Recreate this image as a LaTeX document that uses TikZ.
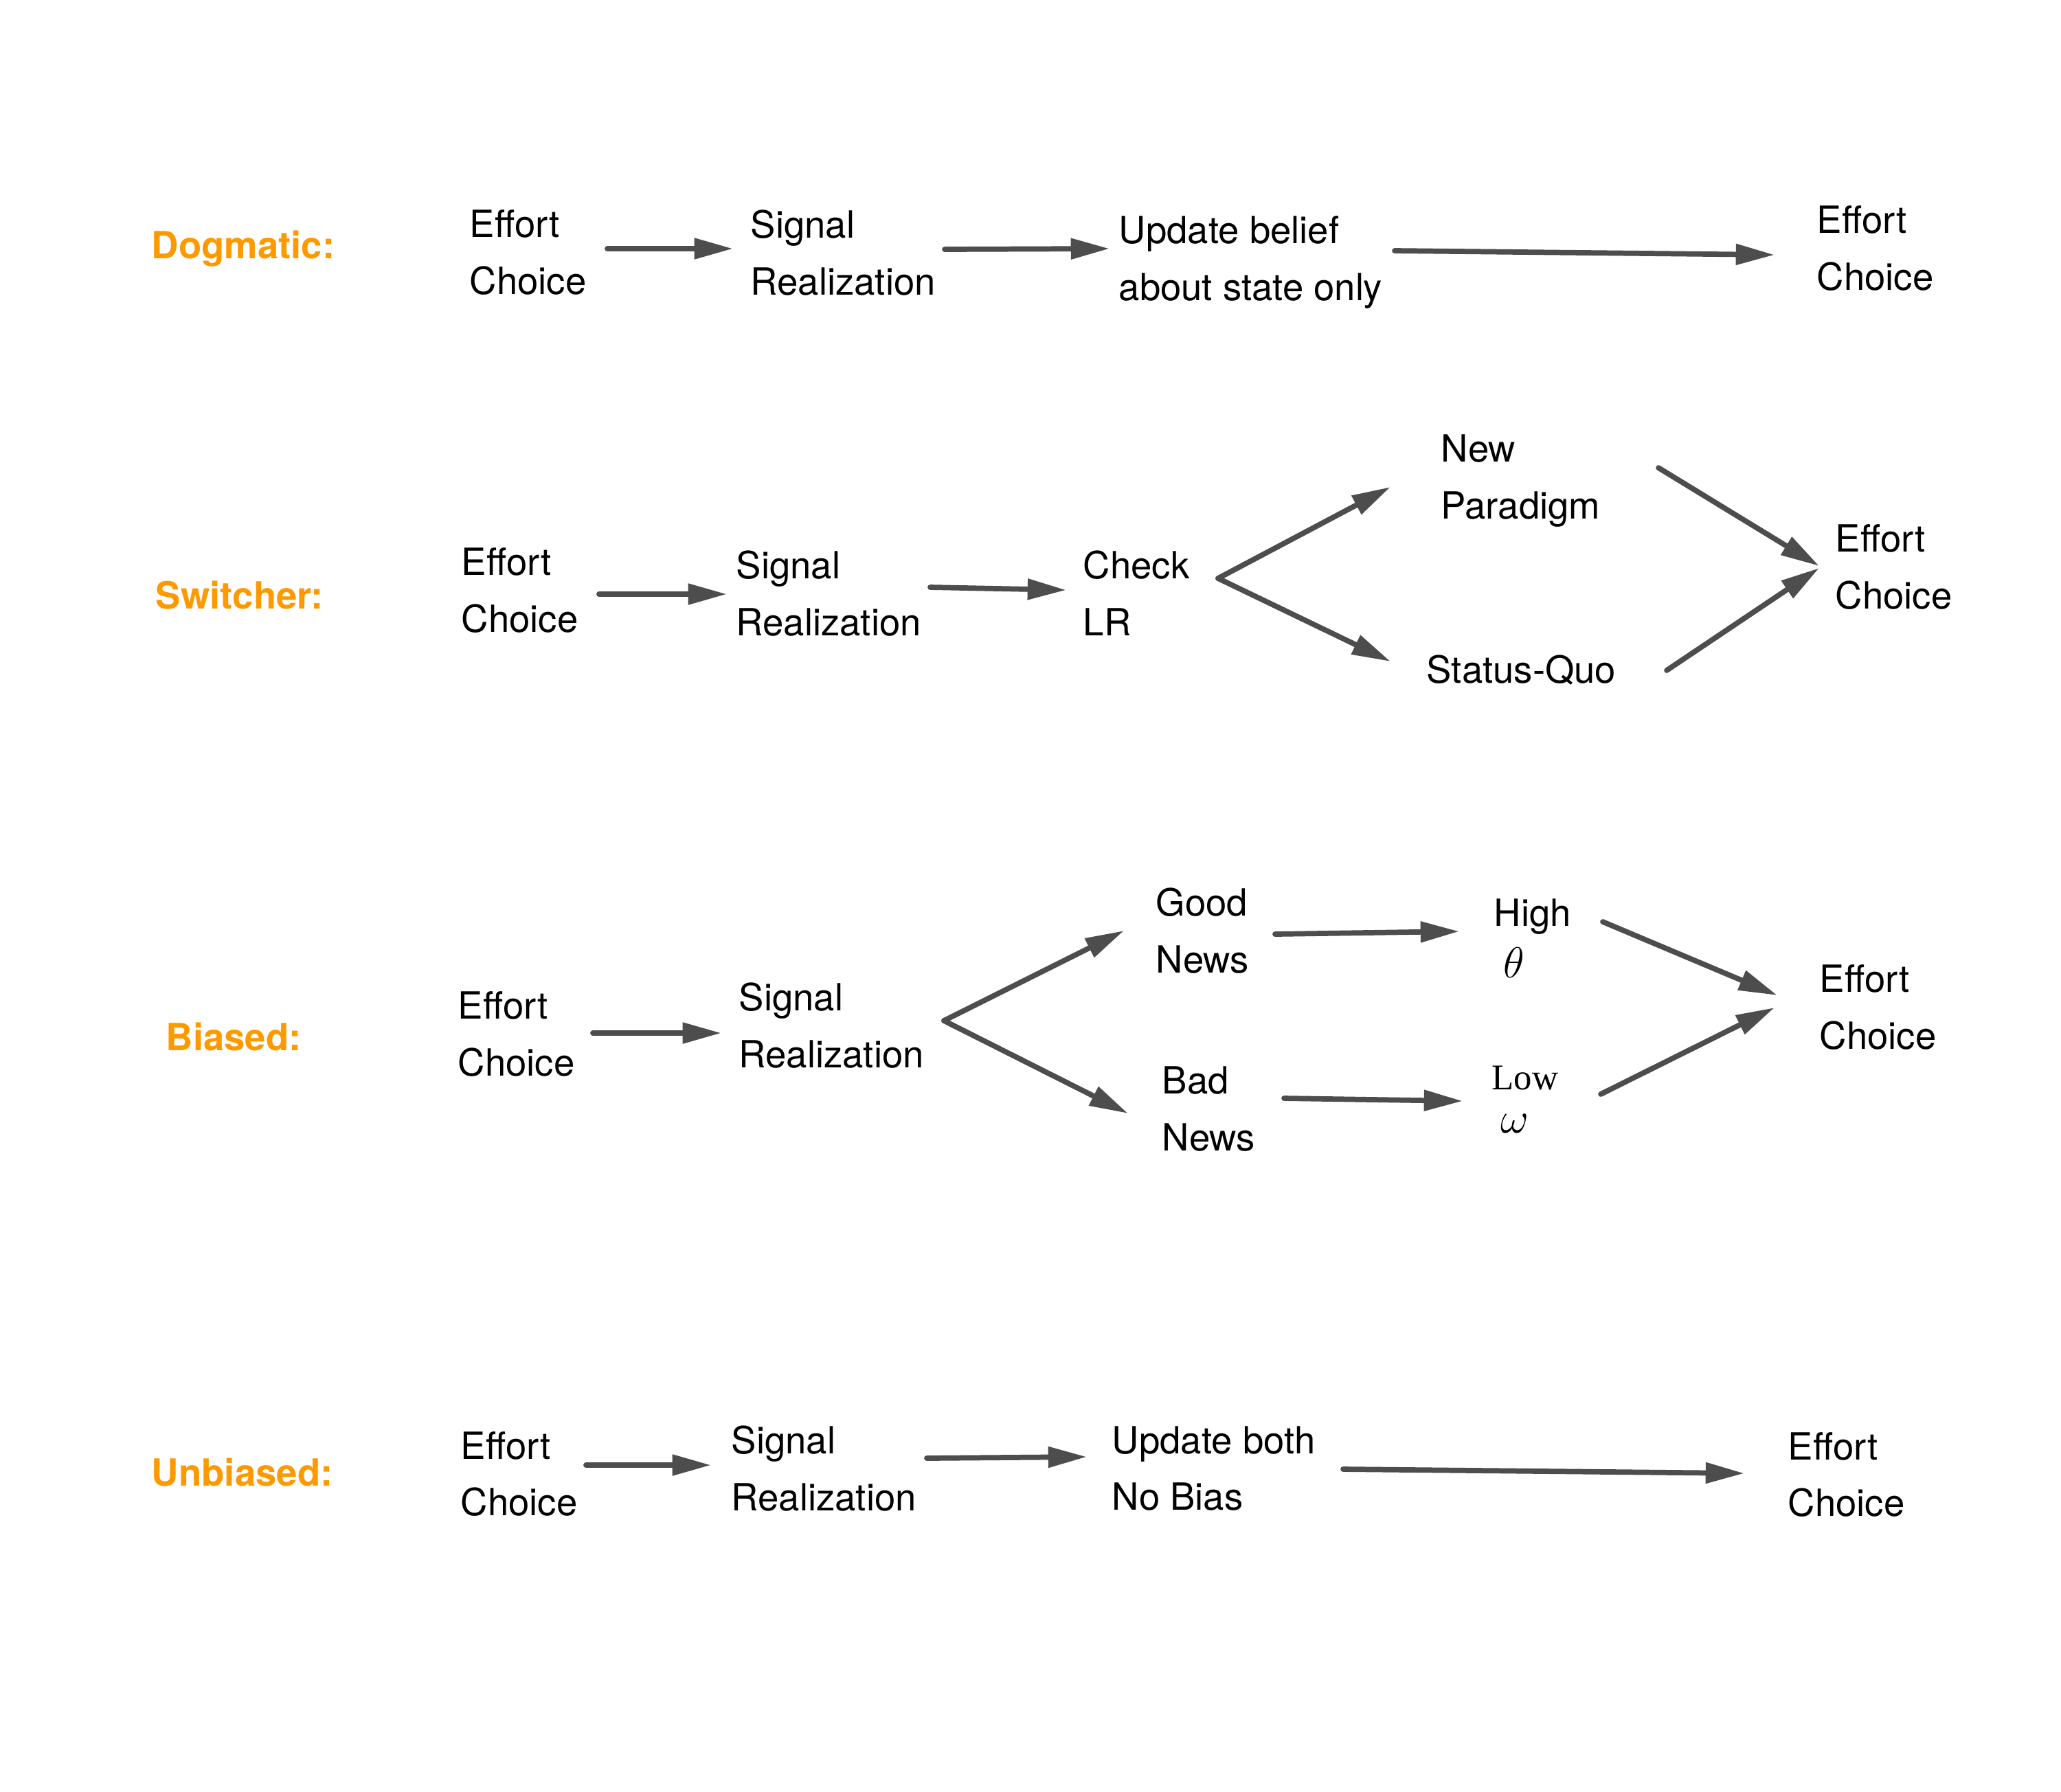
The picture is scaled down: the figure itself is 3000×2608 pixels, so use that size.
\RequirePackage{fix-cm}
\documentclass[tikz,border=0pt]{standalone}
\usepackage{fontspec}
\setsansfont{TeX Gyre Heros}
\newfontfamily\timesfnt{Liberation Serif}
\usetikzlibrary{arrows.meta}
\definecolor{arr}{HTML}{4D4D4D}
\definecolor{org}{HTML}{FF9900}
\newcommand{\bigmath}[1]{{\fontsize{18}{18}\selectfont$#1$}}
\begin{document}
\begin{tikzpicture}[x=0.01cm,y=-0.01cm,
 txt/.style={anchor=west,inner sep=0,align=left,font=\sffamily\fontsize{15.5}{23.6}\selectfont},
 lbl/.style={anchor=west,inner sep=0,text=org,font=\sffamily\bfseries\fontsize{15.5}{18}\selectfont},
 conn/.style={draw=arr,line width=2.2pt,line cap=round,-{Triangle[length=16pt,width=8.3pt]}}]
\useasboundingbox[fill=white] (0,0) rectangle (3000,2608);
% Row 1: Dogmatic
\node[lbl] (dl) at (220,362) {Dogmatic:};
\node[txt] (d1) at (683,368) {Effort\\Choice};
\node[txt] (d2) at (1092,368) {Signal\\Realization};
\node[txt] (d3) at (1628,382) {Update belief\\about state only};
\node[txt] (d4) at (2644,362) {Effort\\Choice};
\coordinate (d1a) at (884,362); \coordinate (d1b) at (1067,362);
\coordinate (d2a) at (1375,363); \coordinate (d2b) at (1615,362);
\coordinate (d3a) at (2030,365); \coordinate (d3b) at (2583,371);
\draw[conn] (d1a) -- (d1b);
\draw[conn] (d2a) -- (d2b);
\draw[conn] (d3a) -- (d3b);
% Row 2: Switcher
\node[lbl] (sl) at (226,867) {Switcher:};
\node[txt] (s1) at (671,860) {Effort\\Choice};
\node[txt] (s2) at (1071,864) {Signal\\Realization};
\node[txt] (s3) at (1576,864) {Check\\LR};
\node[txt] (s4) at (2097,700) {New\\Paradigm};
\node[txt] (s5) at (2076,976) {Status-Quo};
\node[txt] (s6) at (2671,826) {Effort\\Choice};
\coordinate (s1a) at (872,865); \coordinate (s1b) at (1058,865);
\coordinate (s2a) at (1354,855); \coordinate (s2b) at (1552,859);
\coordinate (sb) at (1773,842);
\coordinate (s3u) at (2024,709); \coordinate (s3d) at (2024,963);
\coordinate (s4a) at (2414,681); \coordinate (s4b) at (2648,824);
\coordinate (s5a) at (2426,976); \coordinate (s5b) at (2648,827);
\draw[conn] (s1a) -- (s1b);
\draw[conn] (s2a) -- (s2b);
\draw[conn] (sb) -- (s3u);
\draw[conn] (sb) -- (s3d);
\draw[conn] (s4a) -- (s4b);
\draw[conn] (s5a) -- (s5b);
% Row 3: Biased
\node[lbl] (bl) at (241,1509) {Biased:};
\node[txt] (b1) at (666,1506) {Effort\\Choice};
\node[txt] (b2) at (1075,1493) {Signal\\Realization};
\node[txt] (b3) at (1682,1355) {Good\\News};
\node[txt] (b4) at (1691,1615) {Bad\\News};
\node[txt,font=\sffamily\fontsize{15.5}{21.3}\selectfont] (b5) at (2174,1366) {High\\\hspace*{3.8pt}\bigmath{\theta}};
\node[txt,font=\timesfnt\fontsize{15}{17.9}\selectfont] (b6) at (2171,1601) {Low\\\hspace*{3.5pt}\bigmath{\omega}};
\node[txt] (b7) at (2648,1467) {Effort\\Choice};
\coordinate (b1a) at (863,1504); \coordinate (b1b) at (1050,1504);
\coordinate (bb) at (1374,1486);
\coordinate (b2u) at (1636,1355); \coordinate (b2d) at (1642,1621);
\coordinate (b3a) at (1856,1360); \coordinate (b3b) at (2124,1356);
\coordinate (b4a) at (1869,1599); \coordinate (b4b) at (2129,1603);
\coordinate (b5a) at (2333,1342); \coordinate (b5b) at (2587,1449);
\coordinate (b6a) at (2330,1593); \coordinate (b6b) at (2583,1467);
\draw[conn] (b1a) -- (b1b);
\draw[conn] (bb) -- (b2u);
\draw[conn] (bb) -- (b2d);
\draw[conn] (b3a) -- (b3b);
\draw[conn] (b4a) -- (b4b);
\draw[conn] (b5a) -- (b5b);
\draw[conn] (b6a) -- (b6b);
% Row 4: Unbiased
\node[lbl] (ul) at (220,2143) {Unbiased:};
\node[txt] (u1) at (670,2146) {Effort\\Choice};
\node[txt] (u2) at (1064,2138) {Signal\\Realization};
\node[txt] (u3) at (1618,2138) {Update both\\No Bias};
\node[txt] (u4) at (2602,2147) {Effort\\Choice};
\coordinate (u1a) at (853,2133); \coordinate (u1b) at (1035,2133);
\coordinate (u2a) at (1349,2123); \coordinate (u2b) at (1582,2121);
\coordinate (u3a) at (1955,2139); \coordinate (u3b) at (2539,2145);
\draw[conn] (u1a) -- (u1b);
\draw[conn] (u2a) -- (u2b);
\draw[conn] (u3a) -- (u3b);
\end{tikzpicture}
\end{document}
